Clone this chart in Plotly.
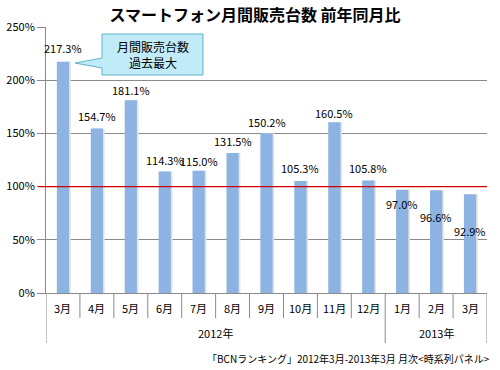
import plotly.graph_objects as go

title = "スマートフォン月間販売台数 前年同月比"
months = ["3月", "4月", "5月", "6月", "7月", "8月", "9月", "10月", "11月", "12月", "1月", "2月", "3月"]
years = ["2012年"] * 10 + ["2013年"] * 3
values = [217.3, 154.7, 181.1, 114.3, 115.0, 131.5, 150.2, 105.3, 160.5, 105.8, 97.0, 96.6, 92.9]
label_texts = ["217.3%", "154.7%", "181.1%", "114.3%", "115.0%", "131.5%", "150.2%",
               "105.3%", "160.5%", "105.8%", "97.0%", "96.6%", "92.9%"]
y_ticks = [0, 50, 100, 150, 200, 250]
y_tick_text = ["0%", "50%", "100%", "150%", "200%", "250%"]
reference_line = 100
callout_text = "月間販売台数<br>過去最大"
source_text = "「BCNランキング」2012年3月-2013年3月 月次<時系列パネル>"

# label vertical offsets in pixels (style only)
label_dy = [14, 12, 10, 11, 10, 12, 11, 13, 9, 12, -14, -27, -37]

FONT = "Noto Sans CJK JP"
L, R, T, B = 46, 13, 27, 77
W, H = 500, 370
pw, ph = W - L - R, H - T - B

def px(xp):
    return (xp - L) / pw

def py(yp):
    return (H - B - yp) / ph

idx = list(range(len(values)))

fig = go.Figure()
fig.add_trace(go.Bar(
    x=idx, y=values, width=0.36, offset=-0.13,
    marker=dict(color="#e3e3e3", line=dict(width=0)),
    hoverinfo="skip", showlegend=False,
))
fig.add_trace(go.Bar(
    x=idx, y=values, width=0.36, offset=-0.18,
    marker=dict(color="#8db3e2", line=dict(width=0)),
    showlegend=False,
))

for i, (v, t) in enumerate(zip(values, label_texts)):
    fig.add_annotation(
        x=i, y=v, xref="x", yref="y", xanchor="center",
        text=t, showarrow=False, yanchor="middle", yshift=label_dy[i],
        font=dict(family=FONT, size=11, color="#000"),
    )

# month separators and year separators / labels
axis_col = "#8a8a8a"
for i in range(len(months) + 1):
    b = i - 0.5
    is_year_edge = i == 0 or i == len(months) or years[i] != years[i - 1]
    y_end = py(343) if is_year_edge else py(318)
    fig.add_shape(type="line", xref="x", yref="paper", x0=b, x1=b, y0=0, y1=y_end,
                  line=dict(color=axis_col, width=1))
    if i < len(months):
        fig.add_annotation(x=i, xref="x", yref="paper", y=py(308), text=months[i],
                           showarrow=False, yanchor="middle", xanchor="center",
                           font=dict(family=FONT, size=11, color="#000"))

groups = []
for i, yname in enumerate(years):
    if not groups or groups[-1][0] != yname:
        groups.append([yname, i, i])
    else:
        groups[-1][2] = i
for yname, a, b in groups:
    fig.add_annotation(x=(a + b) / 2, xref="x", yref="paper", y=py(333), text=yname,
                       showarrow=False, yanchor="middle", xanchor="center",
                       font=dict(family=FONT, size=11, color="#000"))

# reference line at 100%
fig.add_shape(type="line", xref="paper", x0=-8 / pw, x1=1, yref="y",
              y0=reference_line, y1=reference_line,
              line=dict(color="#d00000", width=1.3), layer="above")

# callout box with tail (paper coords)
bx0, bx1, by0, by1 = 102, 203, 34, 75
tip = (75, 63)
path = (f"M {px(bx0)},{py(by0)} L {px(bx1)},{py(by0)} L {px(bx1)},{py(by1)} "
        f"L {px(bx0)},{py(by1)} L {px(bx0)},{py(68)} L {px(tip[0])},{py(tip[1])} "
        f"L {px(bx0)},{py(58)} Z")
fig.add_shape(type="path", xref="paper", yref="paper", path=path,
              fillcolor="#c2ebf8", line=dict(color="#5fb3cc", width=1), layer="above")
fig.add_annotation(xref="paper", yref="paper", x=px((bx0 + bx1) / 2), y=py((by0 + by1) / 2),
                   text=callout_text, showarrow=False, xanchor="center", yanchor="middle",
                   font=dict(family=FONT, size=12, color="#000"))

fig.add_annotation(xref="paper", yref="paper", x=px(492), y=py(358), xanchor="right",
                   yanchor="middle", text=source_text, showarrow=False,
                   font=dict(family=FONT, size=10, color="#000"))

fig.update_layout(
    width=W, height=H,
    margin=dict(l=L, r=R, t=T, b=B, autoexpand=False),
    paper_bgcolor="white", plot_bgcolor="white",
    barmode="overlay",
    title=dict(text="<b>" + title + "</b>", x=0.51, xanchor="center", y=1 - 15 / H,
               yanchor="middle", font=dict(family=FONT, size=16, color="#000")),
    font=dict(family=FONT, size=11, color="#000"),
    xaxis=dict(range=[-0.5, len(values) - 0.5], showticklabels=False, ticks="",
               showline=True, linecolor=axis_col, linewidth=1, showgrid=False,
               zeroline=False, fixedrange=True),
    yaxis=dict(range=[0, 250], tickvals=y_ticks, ticktext=y_tick_text,
               showline=True, linecolor=axis_col, linewidth=1, ticks="outside",
               ticklen=8, tickcolor=axis_col, showgrid=True, gridcolor=axis_col,
               gridwidth=1, zeroline=False, tickfont=dict(family=FONT, size=11)),
)

fig.write_html("out.html", config={"displayModeBar": False},
               post_script="document.body.style.margin='0';")
